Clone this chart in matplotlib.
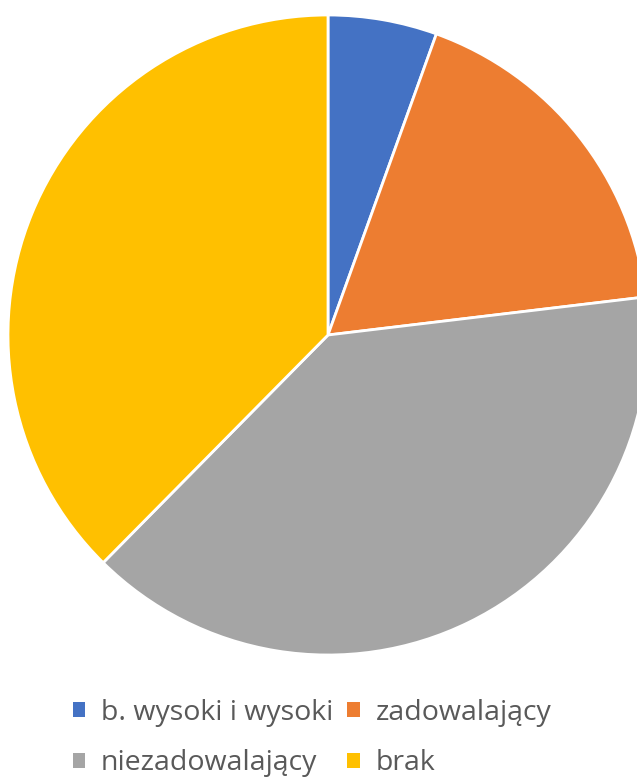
import matplotlib
matplotlib.use("Agg")
import matplotlib.pyplot as plt
from matplotlib.patches import Patch

categories = ["b. wysoki i wysoki", "zadowalający", "niezadowalający", "brak"]
values = [5.5, 17.6, 39.3, 37.6]
colors = ["#4472C4", "#ED7D31", "#A5A5A5", "#FFC000"]

W, H = 637, 781
fig = plt.figure(figsize=(W / 100, H / 100), dpi=100)
cx, cy, r = 328, 335, 320
ax = fig.add_axes([(cx - r) / W, (H - cy - r) / H, 2 * r / W, 2 * r / H])
ax.pie(values, colors=colors, startangle=90, counterclock=False, radius=1,
       wedgeprops=dict(edgecolor="white", linewidth=2))
ax.set_xlim(-1, 1)
ax.set_ylim(-1, 1)
ax.set_aspect("equal")
ax.axis("off")

handles = [Patch(facecolor=c, edgecolor="none") for c in colors]
order = [0, 2, 1, 3]
leg = fig.legend([handles[i] for i in order], [categories[i] for i in order],
                 loc="center", bbox_to_anchor=(0.49, 1 - 738 / H),
                 ncol=2, frameon=False,
                 handlelength=0.45, handleheight=0.45, handletextpad=0.55,
                 columnspacing=0.5, labelspacing=0.8,
                 prop={"family": "Open Sans", "size": 20.5})
for t in leg.get_texts():
    t.set_color("#595959")
fig.savefig("out.png", dpi=100)
